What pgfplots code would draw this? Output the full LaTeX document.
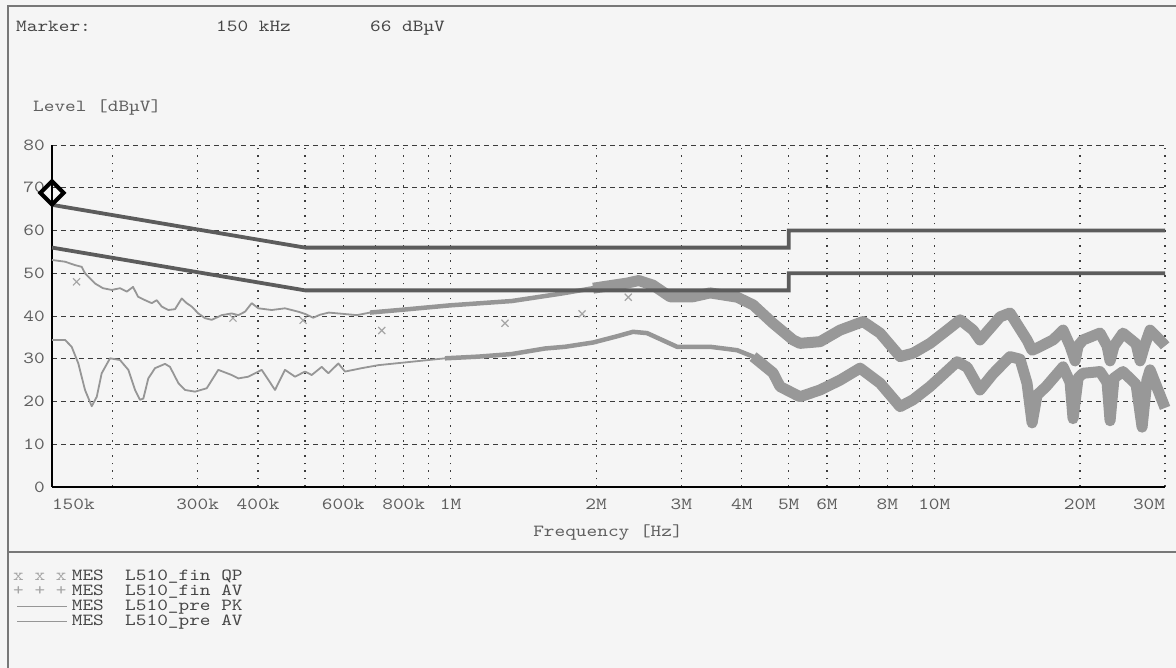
\documentclass[border=0pt]{standalone}
\usepackage{fontspec}
\setmonofont{lmmono10-regular.otf}[FakeStretch=1.2]
\usepackage{pgfplots}
\pgfplotsset{compat=1.18}

\definecolor{bg}{RGB}{245,245,245}
\definecolor{framec}{RGB}{120,120,120}
\definecolor{txt}{RGB}{70,70,70}
\definecolor{tickc}{RGB}{95,95,95}
\definecolor{gridc}{RGB}{60,60,60}
\definecolor{limitc}{RGB}{92,92,92}
\definecolor{meas}{RGB}{150,150,150}
\definecolor{band}{RGB}{152,152,152}
\definecolor{qpc}{RGB}{165,165,165}

\newcommand{\tfont}{\fontsize{17}{15}\selectfont\ttfamily}

\begin{document}
\begin{tikzpicture}
\useasboundingbox (0,0) rectangle (1176bp,668bp);
\fill[bg] (0,0) rectangle (1176bp,668bp);
% page frame and legend separator
\draw[framec, line width=1.2bp] (8bp,0) -- (8bp,662bp) -- (1176bp,662bp);
\draw[framec, line width=1.2bp] (8bp,116bp) -- (1176bp,116bp);

% header texts
\node[anchor=base west, inner sep=0, font=\tfont, text=txt] at (16bp,636bp) {Marker:};
\node[anchor=base west, inner sep=0, font=\tfont, text=txt] at (216bp,636bp) {150 kHz};
\node[anchor=base west, inner sep=0, font=\tfont, text=txt] at (370bp,636bp) {66 dBµV};
\node[anchor=base west, inner sep=0, font=\tfont, text=tickc] at (33bp,556bp) {Level [dBµV]};
\node[anchor=base, inner sep=0, font=\tfont, text=tickc] at (608bp,131bp) {Frequency [Hz]};

% legend block
\node[anchor=base west, inner sep=0, font=\tfont, text=qpc] at (13bp,87.5bp) {x x x};
\node[anchor=base west, inner sep=0, font=\tfont, text=qpc] at (13bp,72.3bp) {+ + +};
\draw[meas, line width=1.2bp] (17bp,61.5bp) -- (67bp,61.5bp);
\draw[meas, line width=1.2bp] (17bp,46.3bp) -- (67bp,46.3bp);
\node[anchor=base west, inner sep=0, font=\tfont, text=txt] at (71.7bp,87.5bp) {MES~~L510\_fin QP};
\node[anchor=base west, inner sep=0, font=\tfont, text=txt] at (71.7bp,72.3bp) {MES~~L510\_fin AV};
\node[anchor=base west, inner sep=0, font=\tfont, text=txt] at (71.7bp,57bp) {MES~~L510\_pre PK};
\node[anchor=base west, inner sep=0, font=\tfont, text=txt] at (71.7bp,42bp) {MES~~L510\_pre AV};

\begin{axis}[
  at={(52bp,181bp)}, anchor=south west,
  scale only axis, width=1113bp, height=342bp,
  xmode=log, xmin=150000, xmax=30000000, ymin=0, ymax=80,
  axis x line=bottom, axis y line=left,
  axis line style={-, line width=1.6bp, black},
  every outer x axis line/.append style={-},
  every outer y axis line/.append style={-},
  xtick={150000,200000,300000,400000,500000,600000,700000,800000,900000,1000000,2000000,3000000,4000000,5000000,6000000,7000000,8000000,9000000,10000000,20000000,30000000},
  xticklabels={\makebox[0pt][l]{150k},,300k,400k,,600k,,800k,,1M,2M,3M,4M,5M,6M,,8M,,10M,20M,\makebox[0pt][r]{30M}},
  ytick={0,10,20,30,40,50,60,70,80},
  yticklabels={0,10,20,30,40,50,60,70,80},
  major tick length=0pt, minor tick num=0,
  xmajorgrids, ymajorgrids,
  x grid style={gridc, line width=1.3bp, dash pattern=on 1.5bp off 6bp},
  y grid style={gridc, line width=0.8bp, dash pattern=on 5bp off 4bp},
  ticklabel style={font=\tfont, text=tickc, inner sep=0pt},
  xticklabel style={anchor=base, yshift=-23bp},
  yticklabel style={anchor=east, xshift=-7bp},
  clip=false,
]
% pre-scan peak, low band
\addplot[meas, line width=1.8bp, line join=round, mark=none] coordinates {
(150000,53.1)(159600,52.7)(167400,51.9)(172800,51.5)(175500,50)(184100,47.6)
(191200,46.5)(199300,46.1)(207300,46.5)(214100,45.7)(220600,46.8)(225900,44.5)
(233600,43.7)(241100,43)(246900,43.7)(252900,42.2)(260900,41.4)(269400,41.6)
(278100,44.1)(284800,43)(291700,42.2)(301000,40.6)(310700,39.5)(320800,39.1)
(336500,40.2)(352800,40.6)(364100,40.2)(375900,41)(388100,43)(400500,41.8)
(426800,41.4)(454700,41.8)(484500,41)(500000,40.5)(520000,39.6)(537300,40.3)
(560000,40.8)(599400,40.5)(640000,40.2)(681600,40.8)};
\addplot[meas, line width=4.5bp, line join=round, mark=none] coordinates {
(681600,40.8)(801300,41.5)(1000000,42.5)(1338000,43.5)(1684000,45.2)(1971000,46.5)(2317000,47.7)};
\addplot[band, line width=11bp, line join=round, mark=none] coordinates {
(1971000,46.5)(2317000,47.7)(2450000,48.3)(2622000,47.2)(2843000,44.5)(3171000,44.5)
(3440000,45.4)(3913000,44.4)(4221000,42.6)(4641000,38.3)(5105000,34.4)(5277000,33.6)
(5806000,34)(6386000,36.7)(7125000,38.7)(7726000,36)(8498000,30.5)(9039000,31.3)
(9801000,33.6)(10630000,36.7)(11310000,39.1)(12030000,36.7)(12430000,34.4)(13680000,39.8)
(14340000,40.7)(15550000,34.4)(15930000,32)(16310000,32.5)(17600000,34.4)(18460000,36.7)
(19090000,33)(19550000,29.5)(19830000,33)(20300000,34.4)(22010000,36)(22760000,33)
(23090000,29.5)(23530000,33)(24550000,36)(26130000,33.5)(26640000,29.5)(27200000,33)
(27930000,36.7)(29710000,33.6)(30000000,33)};

% pre-scan average
\addplot[meas, line width=1.8bp, line join=round, mark=none] coordinates {
(150000,34.4)(159600,34.4)(164700,32.8)(170000,28.9)(175500,22.7)(181200,18.9)
(185600,21.1)(190000,26.6)(197700,30.1)(207300,29.7)(215700,27.4)(222700,22.7)
(228000,20.4)(231700,20.7)(237200,25.4)(244900,27.8)(256900,28.8)(263000,28.1)
(273700,24.3)(282500,22.7)(296300,22.3)(313300,23.1)(331000,27.4)(352800,26.2)
(364100,25.4)(381800,25.8)(407000,27.4)(433600,22.7)(454700,27.4)(476900,25.8)
(500000,27)(516400,26.2)(541600,28.1)(558900,26.6)(586100,28.9)(605100,27)
(655300,27.8)(709000,28.5)(831000,29.3)(974000,30.1)(1142000,30.5)};
\addplot[meas, line width=4.5bp, line join=round, mark=none] coordinates {
(974000,30.1)(1142000,30.5)(1338000,31.1)(1568000,32.4)(1725000,32.8)(1971000,33.8)
(2200000,35.2)(2384000,36.3)(2548000,36)(2939000,32.8)(3440000,32.8)(3913000,32)
(4221000,30.5)(4641000,26.7)};
\addplot[band, line width=11bp, line join=round, mark=none] coordinates {
(4221000,30.5)(4641000,26.7)(4799000,23.5)(5277000,21.1)(5806000,22.7)(6386000,25)
(7024000,27.8)(7726000,24.3)(8498000,18.8)(9039000,20.4)(9801000,23.5)(11150000,29.3)
(11700000,28)(12430000,22.7)(13230000,26.5)(14340000,30.5)(15040000,29.9)(15550000,24.3)
(15930000,15)(16310000,21.5)(17030000,23.5)(18460000,28.1)(19090000,24.5)(19360000,16)
(19830000,25.5)(20300000,26.6)(22010000,27)(22760000,24.5)(23090000,15.5)(23530000,25.5)
(24550000,27)(26130000,24)(26890000,14)(27520000,25)(27930000,27.4)(30000000,18.5)};

% limit lines
\addplot[limitc, line width=3.8bp, mark=none] coordinates {
(150000,66)(500000,56)(5000000,56)(5000000,60)(30000000,60)};
\addplot[limitc, line width=3.8bp, mark=none] coordinates {
(150000,56)(500000,46)(5000000,46)(5000000,50)(30000000,50)};

% final quasi-peak readings
\addplot[qpc, only marks, mark=x, mark size=5bp, line width=1.2bp] coordinates {
(168600,48)(355000,39.5)(495600,39)(720700,36.6)(1296000,38.3)(1870000,40.5)(2330000,44.4)};

% marker
\addplot[black, only marks, mark=square, mark size=8.2bp, line width=4bp,
  mark options={rotate=45, fill=bg}] coordinates {(150000,68.8)};
\end{axis}
\end{tikzpicture}
\end{document}
